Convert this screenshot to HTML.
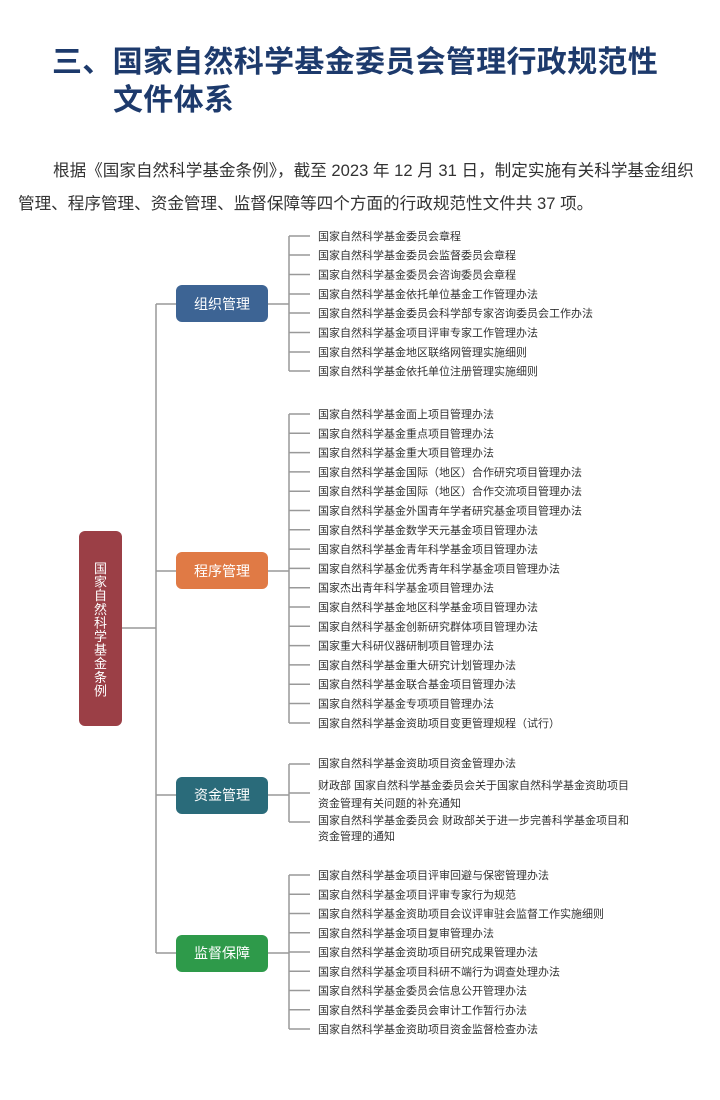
<!DOCTYPE html>
<html><head><meta charset="utf-8"><style>
body{margin:0;width:720px;height:1100px;background:#fff;font-family:"Liberation Sans","Noto Sans CJK SC",sans-serif;position:relative;overflow:hidden}
.t{position:absolute;color:#1d3a6c;font-weight:bold;font-size:30px;letter-spacing:0.3px;line-height:38px;font-family:"Liberation Sans","Noto Sans CJK SC",sans-serif}
.p{position:absolute;font-size:16.6px;color:#333;white-space:nowrap}
</style></head><body>
<div class="t" style="left:52px;top:44px">三、国家自然科学基金委员会管理行政规范性</div>
<div class="t" style="left:113px;top:82px">文件体系</div>
<div class="p" style="left:53px;top:157px">根据《国家自然科学基金条例》，截至 2023 年 12 月 31 日，制定实施有关科学基金组织</div>
<div class="p" style="left:18px;top:190px">管理、程序管理、资金管理、监督保障等四个方面的行政规范性文件共 37 项。</div>
<svg width="720" height="1100" style="position:absolute;left:0;top:0" font-family="Liberation Sans, Noto Sans CJK SC, sans-serif">
<g stroke="#999" stroke-width="1.5" fill="none">
<path d="M122 628H156M156 304V953M156 304H176M156 571H176M156 795H176M156 953H176"/>
<path d="M268 304H289M289 236V371M268 571H289M289 414V723M268 795H289M289 764V822M268 953H289M289 875V1029"/>
<path d="M289 236h21M289 255h21M289 274.5h21M289 294h21M289 313h21M289 332.5h21M289 352h21M289 371h21"/>
<path d="M289 414h21M289 433.3h21M289 452.6h21M289 471.9h21M289 491.2h21M289 510.5h21M289 529.8h21M289 549.1h21M289 568.4h21M289 587.7h21M289 607h21M289 626.3h21M289 645.6h21M289 664.9h21M289 684.2h21M289 703.5h21M289 723h21"/>
<path d="M289 764h21M289 793h21M289 822h21"/>
<path d="M289 875h21M289 894.3h21M289 913.5h21M289 932.8h21M289 952h21M289 971.3h21M289 990.5h21M289 1009.8h21M289 1029h21"/>
</g>
<rect x="79" y="531" width="43" height="195" rx="6" fill="#9b3f46"/>
<text fill="#fff" font-size="13" text-anchor="middle">
<tspan x="100.5" y="573">国</tspan><tspan x="100.5" y="586.6">家</tspan><tspan x="100.5" y="600.2">自</tspan><tspan x="100.5" y="613.8">然</tspan><tspan x="100.5" y="627.4">科</tspan><tspan x="100.5" y="641">学</tspan><tspan x="100.5" y="654.6">基</tspan><tspan x="100.5" y="668.2">金</tspan><tspan x="100.5" y="681.8">条</tspan><tspan x="100.5" y="695.4">例</tspan></text>
<rect x="176" y="285" width="92" height="37" rx="6" fill="#3d6494"/>
<rect x="176" y="552" width="92" height="37" rx="6" fill="#e07a45"/>
<rect x="176" y="777" width="92" height="37" rx="6" fill="#2a6b7a"/>
<rect x="176" y="935" width="92" height="37" rx="6" fill="#2e9a4a"/>
<g fill="#fff" font-size="14" text-anchor="middle">
<text x="222" y="309">组织管理</text><text x="222" y="576">程序管理</text><text x="222" y="800">资金管理</text><text x="222" y="958">监督保障</text></g>
<g fill="#333" font-size="11">
<text x="318" y="240">国家自然科学基金委员会章程</text>
<text x="318" y="259">国家自然科学基金委员会监督委员会章程</text>
<text x="318" y="278.5">国家自然科学基金委员会咨询委员会章程</text>
<text x="318" y="298">国家自然科学基金依托单位基金工作管理办法</text>
<text x="318" y="317">国家自然科学基金委员会科学部专家咨询委员会工作办法</text>
<text x="318" y="336.5">国家自然科学基金项目评审专家工作管理办法</text>
<text x="318" y="356">国家自然科学基金地区联络网管理实施细则</text>
<text x="318" y="375">国家自然科学基金依托单位注册管理实施细则</text>
<text x="318" y="418">国家自然科学基金面上项目管理办法</text>
<text x="318" y="437.3">国家自然科学基金重点项目管理办法</text>
<text x="318" y="456.6">国家自然科学基金重大项目管理办法</text>
<text x="318" y="475.9">国家自然科学基金国际（地区）合作研究项目管理办法</text>
<text x="318" y="495.2">国家自然科学基金国际（地区）合作交流项目管理办法</text>
<text x="318" y="514.5">国家自然科学基金外国青年学者研究基金项目管理办法</text>
<text x="318" y="533.8">国家自然科学基金数学天元基金项目管理办法</text>
<text x="318" y="553.1">国家自然科学基金青年科学基金项目管理办法</text>
<text x="318" y="572.4">国家自然科学基金优秀青年科学基金项目管理办法</text>
<text x="318" y="591.7">国家杰出青年科学基金项目管理办法</text>
<text x="318" y="611">国家自然科学基金地区科学基金项目管理办法</text>
<text x="318" y="630.3">国家自然科学基金创新研究群体项目管理办法</text>
<text x="318" y="649.6">国家重大科研仪器研制项目管理办法</text>
<text x="318" y="668.9">国家自然科学基金重大研究计划管理办法</text>
<text x="318" y="688.2">国家自然科学基金联合基金项目管理办法</text>
<text x="318" y="707.5">国家自然科学基金专项项目管理办法</text>
<text x="318" y="727">国家自然科学基金资助项目变更管理规程（试行）</text>
<text x="318" y="767">国家自然科学基金资助项目资金管理办法</text>
<text x="318" y="789">财政部  国家自然科学基金委员会关于国家自然科学基金资助项目</text>
<text x="318" y="807">资金管理有关问题的补充通知</text>
<text x="318" y="824">国家自然科学基金委员会  财政部关于进一步完善科学基金项目和</text>
<text x="318" y="840">资金管理的通知</text>
<text x="318" y="879">国家自然科学基金项目评审回避与保密管理办法</text>
<text x="318" y="898.3">国家自然科学基金项目评审专家行为规范</text>
<text x="318" y="917.5">国家自然科学基金资助项目会议评审驻会监督工作实施细则</text>
<text x="318" y="936.8">国家自然科学基金项目复审管理办法</text>
<text x="318" y="956">国家自然科学基金资助项目研究成果管理办法</text>
<text x="318" y="975.3">国家自然科学基金项目科研不端行为调查处理办法</text>
<text x="318" y="994.5">国家自然科学基金委员会信息公开管理办法</text>
<text x="318" y="1013.8">国家自然科学基金委员会审计工作暂行办法</text>
<text x="318" y="1033">国家自然科学基金资助项目资金监督检查办法</text>
</g>
</svg>
</body></html>
